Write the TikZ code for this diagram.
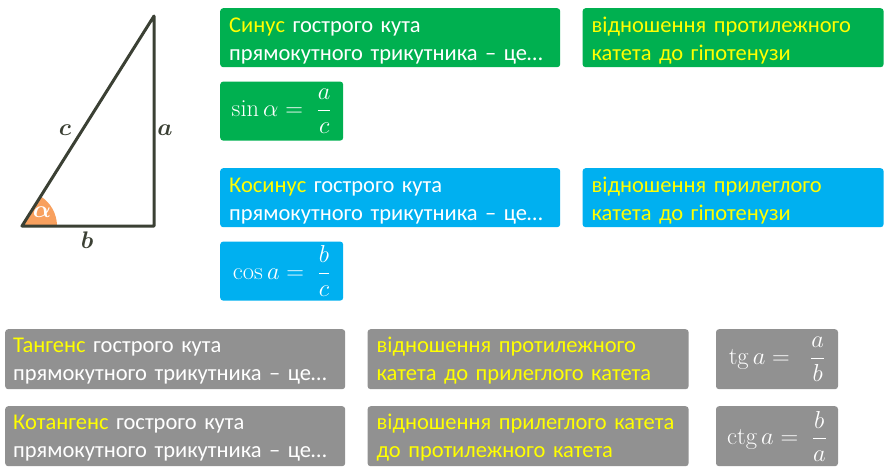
\RequirePackage{fix-cm}
\documentclass[tikz,border=0pt]{standalone}
\usepackage{xcolor}
\usepackage{amsmath}
\usepackage{fontspec}
\newfontfamily\calibri{Carlito}
\usetikzlibrary {positioning, calc}
\definecolor{sinegreen}{HTML}{00B050}
\definecolor{cosblue}{HTML}{00B0F0}
\definecolor{tangray}{HTML}{919191}
\definecolor{hlyellow}{HTML}{FFFF00}
\definecolor{legcol}{HTML}{3B4034}
\definecolor{anglecol}{HTML}{F8A05E}
\newcommand{\hl}[1]{\textcolor{hlyellow}{#1}}
\tikzset{
    box/.style={rounded corners=3pt, inner xsep=9pt, inner ysep=0pt,
        anchor=north west, text=white, align=left,
        text height=24pt, text depth=35pt,
        font=\calibri\fontsize{22.5}{28}\selectfont},
    longbox/.style={box, text width=322pt},
    answerbox/.style={box, text width=283pt, text=hlyellow},
    graybox/.style={fill=tangray, text height=23pt, text depth=37pt},
    midbox/.style={box, graybox, text width=303pt, text=hlyellow},
    formulabox/.style={rounded corners=3pt, inner sep=0pt, anchor=north west,
        text=white, minimum width=123pt, minimum height=59pt,
        font=\fontsize{24.5}{28}\selectfont},
    sidelabel/.style={text=legcol, inner sep=0pt,
        font=\fontsize{24}{28}\selectfont\boldmath}
}

\begin{document}
\begin{tikzpicture}[x=1pt, y=-1pt]
    \useasboundingbox (0, 0) rectangle (892, 472);
    % triangle
    \coordinate (A) at (22, 226);
    \coordinate (B) at (154, 226);
    \coordinate (C) at (154, 16);
    \fill[anglecol] (A) -- ++(35, 0) arc[start angle=0, end angle=-57.8, radius=35] -- cycle;
    \draw[legcol, line width=3pt, line join=round] (A) -- (B) -- (C) -- cycle;
    \node[sidelabel, text=white] (alpha) at (42, 212) {$\alpha$};
    \node[sidelabel] (labc) at (65, 130) {$c$};
    \node[sidelabel] (laba) at (165, 130) {$a$};
    \node[sidelabel] (labb) at (87, 240) {$b$};
    % sine
    \node[longbox, fill=sinegreen] (sindef) at (220, 8)
        {\hl{Синус} гострого кута\\прямокутного трикутника – це…};
    \node[answerbox, fill=sinegreen, right=22pt of sindef] (sinans)
        {відношення  протилежного\\катета до гіпотенузи};
    \node[formulabox, fill=sinegreen, below=14pt of sindef.south west, anchor=north west] (sinval)
        {$\sin\alpha = \;\dfrac{a}{c}$};
    % cosine
    \node[longbox, fill=cosblue] (cosdef) at (220, 168)
        {\hl{Косинус} гострого кута\\прямокутного трикутника – це…};
    \node[answerbox, fill=cosblue, right=22pt of cosdef] (cosans)
        {відношення  прилеглого\\катета до гіпотенузи};
    \node[formulabox, fill=cosblue, below=14pt of cosdef.south west, anchor=north west] (cosval)
        {$\cos a = \;\dfrac{b}{c}$};
    % tangent
    \node[longbox, graybox, inner xsep=8pt, text width=324pt] (tandef) at (5, 329)
        {\hl{Тангенс} гострого кута\\прямокутного трикутника – це…};
    \node[midbox, right=22pt of tandef] (tanans)
        {відношення  протилежного\\катета до прилеглого катета};
    \node[formulabox, fill=tangray, minimum width=122pt, minimum height=60pt,
        right=27pt of tanans] (tanval)
        {$\operatorname{tg} a = \;\;\dfrac{a}{b}$};
    % cotangent
    \node[longbox, graybox, inner xsep=8pt, text width=324pt] (cotdef) at (5, 406)
        {\hl{Котангенс} гострого кута\\прямокутного трикутника – це…};
    \node[midbox, right=22pt of cotdef] (cotans)
        {відношення прилеглого катета\\до протилежного катета};
    \node[formulabox, fill=tangray, minimum width=122pt, minimum height=60pt,
        right=27pt of cotans] (cotval)
        {$\operatorname{ctg} a = \;\dfrac{b}{a}$};
\end{tikzpicture}
\end{document}
